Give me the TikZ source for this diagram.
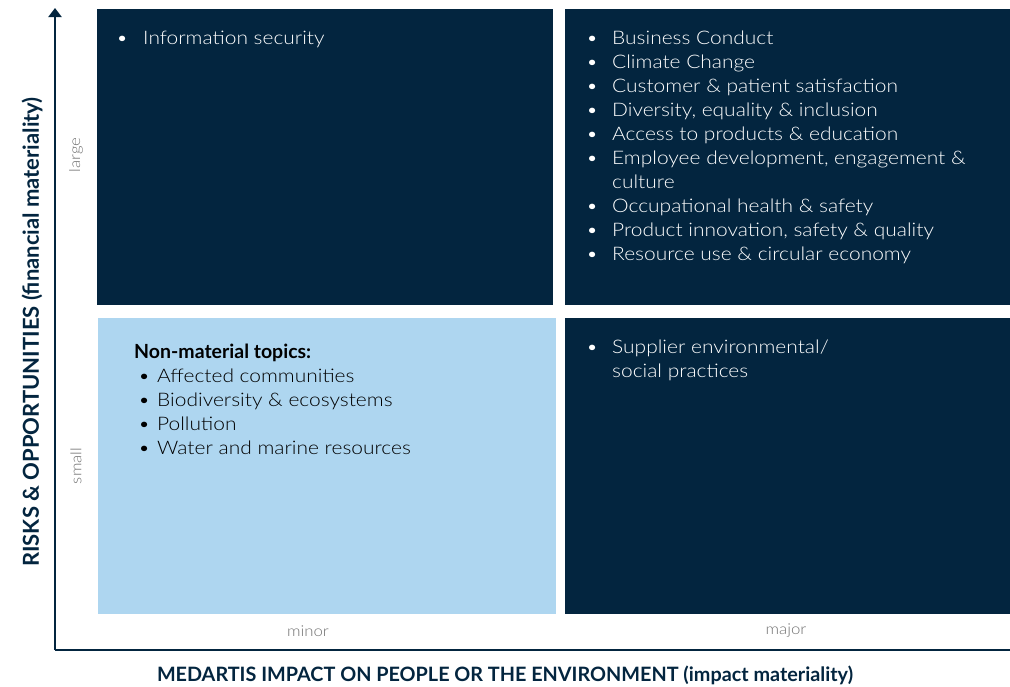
\documentclass[tikz,border=0pt]{standalone}
\usepackage{fontspec}
\setmainfont{Lato}[UprightFont=* Light, BoldFont=* Bold, FakeStretch=1.12]
\newfontfamily\headfont{Lato}[UprightFont=* Bold]
\usepackage{array}
\usetikzlibrary{arrows.meta}

\definecolor{navy}{HTML}{03253F}
\definecolor{paleblue}{HTML}{AED6F0}
\definecolor{labelgrey}{HTML}{707070}

% bullet list set as a two column table
\newcommand\bullist[2]{%
  \begin{tabular}[t]{@{}p{#1}@{}l@{}}#2\end{tabular}}
\newcommand\itemfont{\fontsize{18.7}{24.1}\selectfont}

\begin{document}
\begin{tikzpicture}[x=1pt,y=-1pt,
    quad/.style={fill=navy,inner sep=0pt,anchor=north west,minimum height=296pt},
    topics/.style={anchor=base west,inner sep=0pt,text=white,font=\itemfont},
    scale label/.style={text=labelgrey,font=\fontsize{15}{15}\selectfont,inner sep=0pt},
    axis title/.style={text=navy,font=\headfont\fontsize{19.8}{20}\selectfont,inner sep=0pt},
    axis/.style={line width=2.6pt,draw=navy}]
  \useasboundingbox (0,0) rectangle (1010,686);

  % quadrants
  \node[quad,minimum width=456pt] (tl) at (97,9) {};
  \node[quad,minimum width=445pt] (tr) at (565,9) {};
  \node[quad,minimum width=458pt,fill=paleblue] (bl) at (98,318) {};
  \node[quad,minimum width=445pt] (br) at (565,318) {};

  % axes
  \coordinate (origin) at (55,650);
  \coordinate (ytop) at (55,8);
  \coordinate (xend) at (1010,650);
  \draw[axis] (origin) -- (xend);
  \draw[axis,-{Triangle[width=13pt,length=9pt]}] (origin) -- (ytop);

  % topic lists
  \node[topics] (tl list) at (116,44) {\bullist{27pt}{%
    \textbullet & Information security}};
  \node[topics] (tr list) at (586,44) {\bullist{26pt}{%
    \textbullet & Business Conduct\\
    \textbullet & Climate Change\\
    \textbullet & Customer \& patient satisfaction\\
    \textbullet & Diversity, equality \& inclusion\\
    \textbullet & Access to products \& education\\
    \textbullet & Employee development, engagement \&\\
                & culture\\
    \textbullet & Occupational health \& safety\\
    \textbullet & Product innovation, safety \& quality\\
    \textbullet & Resource use \& circular economy}};
  \node[topics,text=black] (bl head) at (134,358)
    {\headfont\fontsize{19.5}{20}\selectfont Non-material topics:};
  \node[topics,text=black] (bl list) at (138,382) {\bullist{19pt}{%
    \textbullet & Affected communities\\
    \textbullet & Biodiversity \& ecosystems\\
    \textbullet & Pollution\\
    \textbullet & Water and marine resources}};
  \node[topics] (br list) at (586,353) {\bullist{26pt}{%
    \textbullet & Supplier environmental/\\
                & social practices}};

  % scale labels
  \node[scale label,rotate=90] (large) at (76,155) {large};
  \node[scale label,rotate=90] (small) at (76,466) {small};
  \node[scale label] (minor) at (308,631) {minor};
  \node[scale label] (major) at (786,631) {major};

  % axis titles
  \node[axis title,rotate=90,font=\headfont\fontsize{22}{22}\selectfont] (ytitle) at (32,332)
    {RISKS \& OPPORTUNITIES (financial materiality)};
  \node[axis title] (xtitle) at (505,675)
    {MEDARTIS IMPACT ON PEOPLE OR THE ENVIRONMENT (impact materiality)};
\end{tikzpicture}
\end{document}
